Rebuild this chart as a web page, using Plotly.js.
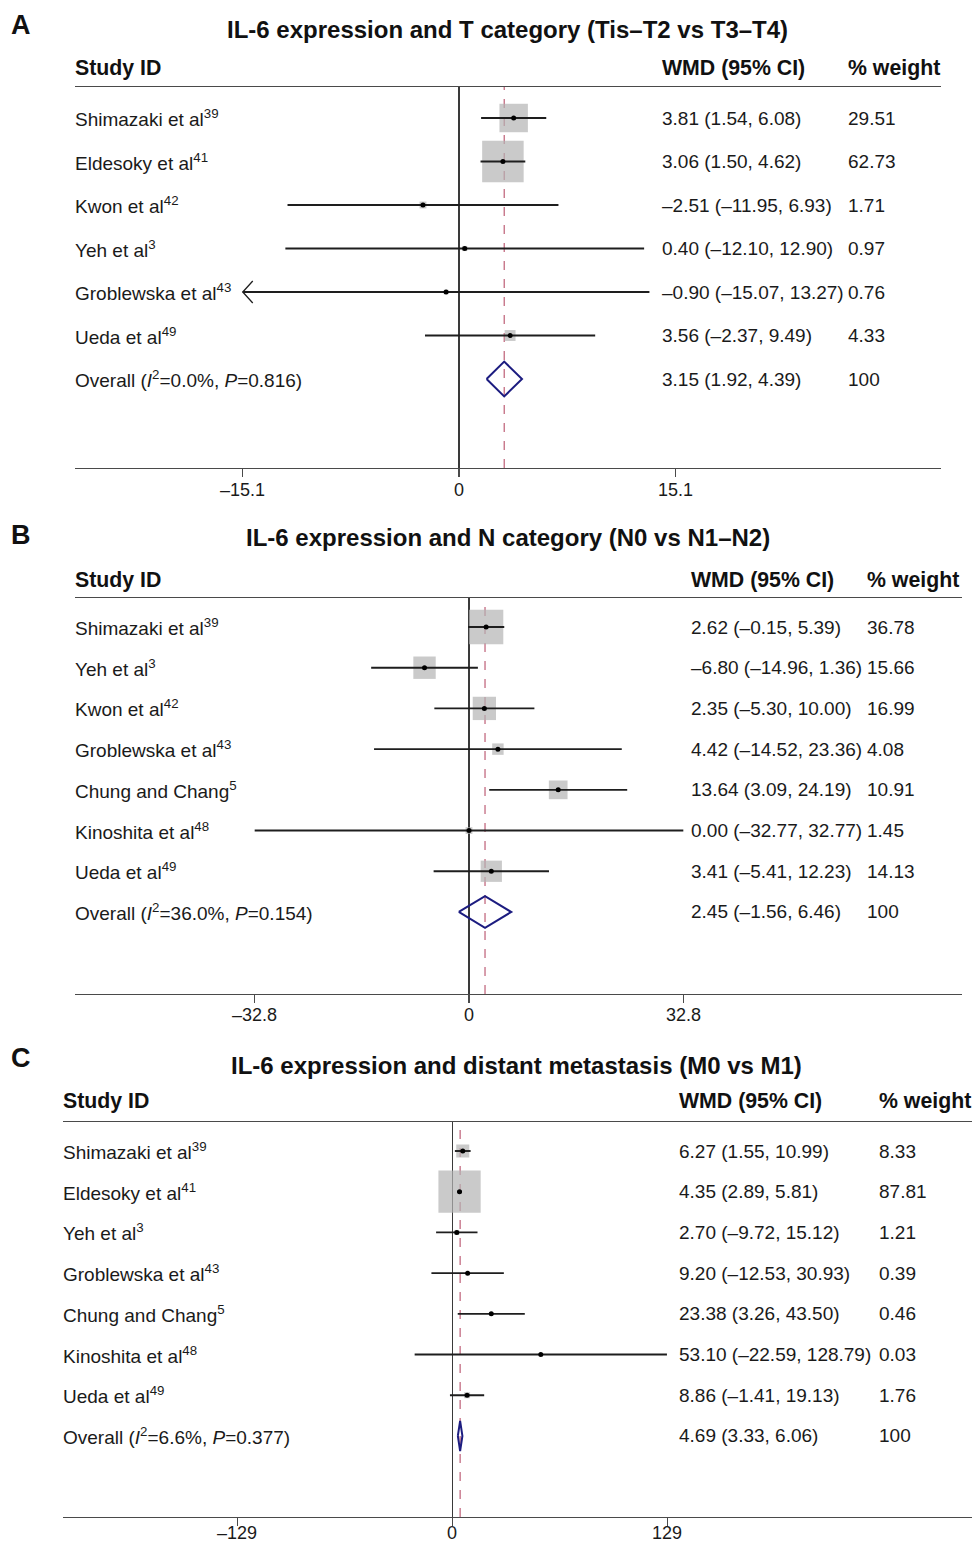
<!DOCTYPE html>
<html>
<head>
<meta charset="utf-8">
<script src="https://cdn.plot.ly/plotly-3.0.1.min.js"></script>
<style>html,body{margin:0;padding:0;background:#fff;}#chart{width:972px;height:1545px;}</style>
</head>
<body>
<div id="chart"></div>
<script>
// ---------------- DATA ----------------
// Panel A: IL-6 expression and T category
const titleA = "IL-6 expression and T category (Tis–T2 vs T3–T4)";
const namesA = ["Shimazaki et al<sup>39</sup>", "Eldesoky et al<sup>41</sup>", "Kwon et al<sup>42</sup>", "Yeh et al<sup>3</sup>", "Groblewska et al<sup>43</sup>", "Ueda et al<sup>49</sup>"];
const estA = [3.81, 3.06, -2.51, 0.40, -0.90, 3.56];
const loA = [1.54, 1.50, -11.95, -12.10, -15.07, -2.37];
const hiA = [6.08, 4.62, 6.93, 12.90, 13.27, 9.49];
const weightA = [29.51, 62.73, 1.71, 0.97, 0.76, 4.33];
const arrowLeftA = [0, 0, 0, 0, 1, 0];
const overallA = [3.15, 1.92, 4.39];
const overallLabelA = "Overall (<i>I</i><sup>2</sup>=0.0%, <i>P</i>=0.816)";
const tickValsA = [-15.1, 0, 15.1];
const tickTextA = ["–15.1", "0", "15.1"];

// Panel B: IL-6 expression and N category
const titleB = "IL-6 expression and N category (N0 vs N1–N2)";
const namesB = ["Shimazaki et al<sup>39</sup>", "Yeh et al<sup>3</sup>", "Kwon et al<sup>42</sup>", "Groblewska et al<sup>43</sup>", "Chung and Chang<sup>5</sup>", "Kinoshita et al<sup>48</sup>", "Ueda et al<sup>49</sup>"];
const estB = [2.62, -6.80, 2.35, 4.42, 13.64, 0.00, 3.41];
const loB = [-0.15, -14.96, -5.30, -14.52, 3.09, -32.77, -5.41];
const hiB = [5.39, 1.36, 10.00, 23.36, 24.19, 32.77, 12.23];
const weightB = [36.78, 15.66, 16.99, 4.08, 10.91, 1.45, 14.13];
const arrowLeftB = [0, 0, 0, 0, 0, 0, 0];
const overallB = [2.45, -1.56, 6.46];
const overallLabelB = "Overall (<i>I</i><sup>2</sup>=36.0%, <i>P</i>=0.154)";
const tickValsB = [-32.8, 0, 32.8];
const tickTextB = ["–32.8", "0", "32.8"];

// Panel C: IL-6 expression and distant metastasis
const titleC = "IL-6 expression and distant metastasis (M0 vs M1)";
const namesC = ["Shimazaki et al<sup>39</sup>", "Eldesoky et al<sup>41</sup>", "Yeh et al<sup>3</sup>", "Groblewska et al<sup>43</sup>", "Chung and Chang<sup>5</sup>", "Kinoshita et al<sup>48</sup>", "Ueda et al<sup>49</sup>"];
const estC = [6.27, 4.35, 2.70, 9.20, 23.38, 53.10, 8.86];
const loC = [1.55, 2.89, -9.72, -12.53, 3.26, -22.59, -1.41];
const hiC = [10.99, 5.81, 15.12, 30.93, 43.50, 128.79, 19.13];
const weightC = [8.33, 87.81, 1.21, 0.39, 0.46, 0.03, 1.76];
const arrowLeftC = [0, 0, 0, 0, 0, 0, 0];
const overallC = [4.69, 3.33, 6.06];
const overallLabelC = "Overall (<i>I</i><sup>2</sup>=6.6%, <i>P</i>=0.377)";
const tickValsC = [-129, 0, 129];
const tickTextC = ["–129", "0", "129"];

const headers = ["Study ID", "WMD (95% CI)", "% weight"];

// ---------------- LAYOUT GEOMETRY (pixels) ----------------
const W = 972, H = 1545;
const FONT = "'Liberation Sans', Arial, Helvetica, sans-serif";
const PAD = 2; // annotation inner padding compensation
const px = x => x / W;
const py = y => 1 - y / H;
const fmt = v => (v < 0 ? "–" + Math.abs(v).toFixed(2) : v.toFixed(2));
const fmtW = v => (v === 100 ? "100" : v.toFixed(2));

const panels = [
  {letter: "A", title: titleA, names: namesA, est: estA, lo: loA, hi: hiA, w: weightA, arrow: arrowLeftA,
   overall: overallA, overallLabel: overallLabelA, tv: tickValsA, tt: tickTextA,
   x0: 75, x1: 941, zeroPx: 459, ppu: 14.35, letterY: 25, titleX: 508, titleY: 30,
   headY: 68, headX: [75, 662, 848], lineY: 87, row1: 118, sp: 43.5, axisY: 468, tickLabY: 490, boxK: 5.24, dh: 0.40},
  {letter: "B", title: titleB, names: namesB, est: estB, lo: loB, hi: hiB, w: weightB, arrow: arrowLeftB,
   overall: overallB, overallLabel: overallLabelB, tv: tickValsB, tt: tickTextB,
   x0: 75, x1: 962, zeroPx: 469, ppu: 6.54, letterY: 535, titleX: 508, titleY: 537,
   headY: 580, headX: [75, 691, 867], lineY: 598, row1: 627, sp: 40.71, axisY: 994, tickLabY: 1015, boxK: 5.66, dh: 0.39},
  {letter: "C", title: titleC, names: namesC, est: estC, lo: loC, hi: hiC, w: weightC, arrow: arrowLeftC,
   overall: overallC, overallLabel: overallLabelC, tv: tickValsC, tt: tickTextC,
   x0: 63, x1: 972, zeroPx: 452.3, ppu: 1.6667, letterY: 1058, titleX: 516, titleY: 1065,
   headY: 1101, headX: [63, 679, 879], lineY: 1122, row1: 1151, sp: 40.71, axisY: 1517, tickLabY: 1533, boxK: 4.51, dh: 0.37}
];

const traces = [];
const annotations = [];
const shapes = [];
const layout = {
  width: W, height: H, margin: {l: 0, r: 0, t: 0, b: 0},
  paper_bgcolor: "#fff", plot_bgcolor: "rgba(0,0,0,0)",
  showlegend: false, font: {family: FONT, color: "#1a1a1a"},
  annotations: annotations, shapes: shapes
};

panels.forEach((p, i) => {
  const xa = "x" + (i ? i + 1 : ""), ya = "y" + (i ? i + 1 : "");
  const xk = "xaxis" + (i ? i + 1 : ""), yk = "yaxis" + (i ? i + 1 : "");
  const n = p.names.length;
  const rows = p.names.map((_, k) => k + 1);
  const overallRow = n + 1;
  const topR = 1 + (p.lineY - p.row1) / p.sp;
  const botR = 1 + (p.axisY - p.row1) / p.sp;

  layout[xk] = {
    domain: [px(p.x0), px(p.x1)],
    range: [(p.x0 - p.zeroPx) / p.ppu, (p.x1 - p.zeroPx) / p.ppu],
    anchor: ya, showgrid: false, zeroline: true, zerolinecolor: "#3a3a3a", zerolinewidth: 1.2,
    showline: true, linecolor: "#4a4a4a", linewidth: 1.4, mirror: true,
    ticks: "outside", ticklen: 8, tickcolor: "#4a4a4a", tickwidth: 1.2,
    tickvals: p.tv, ticktext: p.tt, showticklabels: false,
    fixedrange: true
  };
  layout[yk] = {
    domain: [py(p.axisY), py(p.lineY)], range: [botR, topR], anchor: xa,
    visible: false, showgrid: false, zeroline: false, fixedrange: true
  };

  // boxes
  traces.push({
    type: "scatter", mode: "markers", xaxis: xa, yaxis: ya, x: p.est, y: rows, hoverinfo: "skip",
    marker: {symbol: "square", size: p.w.map(v => p.boxK * Math.sqrt(v)), color: "#b3b3b3", line: {width: 0}}
  });
  // CI lines
  const cx = [], cy = [];
  p.lo.forEach((lo, k) => { cx.push(lo, p.hi[k], null); cy.push(rows[k], rows[k], null); });
  traces.push({type: "scatter", mode: "lines", xaxis: xa, yaxis: ya, x: cx, y: cy, hoverinfo: "skip",
    line: {color: "#1e1e1e", width: 1.9}});
  // arrows for truncated CIs
  const ax = [], ay = [];
  p.arrow.forEach((a, k) => {
    if (a) {
      const dx = 10 / p.ppu, dy = 11 / p.sp;
      ax.push(p.lo[k] + dx, p.lo[k], p.lo[k] + dx, null);
      ay.push(rows[k] - dy, rows[k], rows[k] + dy, null);
    }
  });
  if (ax.length) traces.push({type: "scatter", mode: "lines", xaxis: xa, yaxis: ya, x: ax, y: ay,
    hoverinfo: "skip", line: {color: "#1e1e1e", width: 1.3}});
  // point estimates
  traces.push({type: "scatter", mode: "markers", xaxis: xa, yaxis: ya, x: p.est, y: rows, hoverinfo: "skip",
    marker: {symbol: "circle", size: 5, color: "#000"}});
  // overall diamond
  const [oe, ol, oh] = p.overall;
  traces.push({type: "scatter", mode: "lines", xaxis: xa, yaxis: ya,
    x: [ol, oe, oh, oe, ol], y: [overallRow, overallRow - p.dh, overallRow, overallRow + p.dh, overallRow],
    hoverinfo: "skip", line: {color: "#1c1c80", width: 2}});
  // dashed overall line
  shapes.push({type: "line", xref: xa, yref: ya + " domain", x0: oe, x1: oe, y0: 0, y1: 1,
    line: {color: "#b8506a", width: 1.1, dash: "dash"}, layer: "below"});

  // tick labels
  p.tv.forEach((v, k) => annotations.push({xref: xa, yref: "paper", x: v, y: py(p.tickLabY),
    xanchor: "center", yanchor: "middle", text: p.tt[k], showarrow: false,
    font: {size: 18, family: FONT, color: "#1a1a1a"}}));

  // panel letter & title
  annotations.push({xref: "paper", yref: "paper", x: px(9), y: py(p.letterY), xanchor: "left", yanchor: "middle",
    text: "<b>" + p.letter + "</b>", showarrow: false, font: {size: 27, family: FONT, color: "#111"}});
  annotations.push({xref: "paper", yref: "paper", x: px(p.titleX), y: py(p.titleY), xanchor: "center", yanchor: "middle",
    text: "<b>" + p.title + "</b>", showarrow: false, font: {size: 24, family: FONT, color: "#111"}});
  headers.forEach((h, k) => annotations.push({xref: "paper", yref: "paper", x: px(p.headX[k] - PAD), y: py(p.headY),
    xanchor: "left", yanchor: "middle", text: "<b>" + h + "</b>", showarrow: false,
    font: {size: 21.3, family: FONT, color: "#111"}}));

  // row texts
  const rowText = (txt, r, col) => annotations.push({xref: "paper", yref: ya, x: px(p.headX[col] - PAD), y: r,
    xanchor: "left", yanchor: "middle", text: txt, showarrow: false, font: {size: 19, family: FONT, color: "#1a1a1a"}});
  p.names.forEach((nm, k) => {
    rowText(nm, rows[k], 0);
    rowText(fmt(p.est[k]) + " (" + fmt(p.lo[k]) + ", " + fmt(p.hi[k]) + ")", rows[k], 1);
    rowText(fmtW(p.w[k]), rows[k], 2);
  });
  rowText(p.overallLabel, overallRow, 0);
  rowText(fmt(oe) + " (" + fmt(ol) + ", " + fmt(oh) + ")", overallRow, 1);
  rowText("100", overallRow, 2);
});

Plotly.newPlot("chart", traces, layout, {staticPlot: true, displayModeBar: false});
</script>
</body>
</html>
